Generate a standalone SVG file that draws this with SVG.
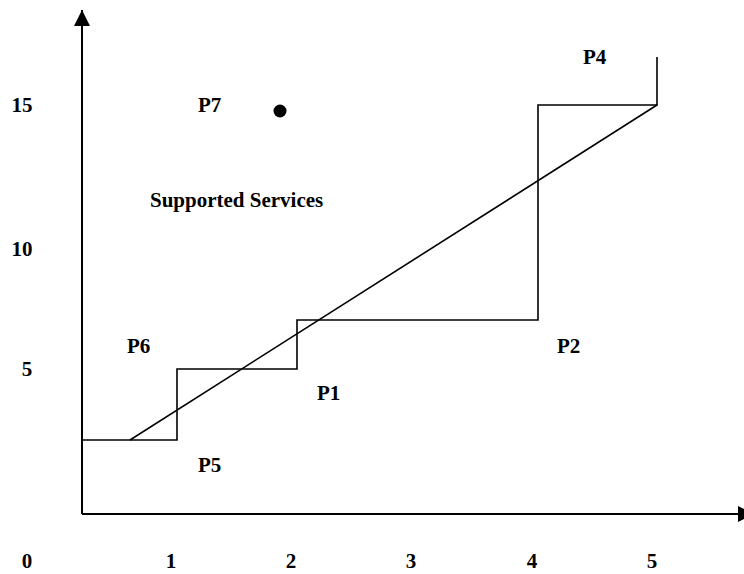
<svg xmlns="http://www.w3.org/2000/svg" width="744" height="574" viewBox="0 0 744 574">
  <style>
    .lbl { font-family: "Liberation Serif", "Times New Roman", serif; font-weight: bold; font-size: 21px; fill: #000; }
    .axis { stroke: #000; stroke-width: 2; fill: none; }
    .line { stroke: #000; stroke-width: 1.6; fill: none; }
  </style>
  <defs>
    <marker id="arrow" viewBox="0 0 10 10" refX="10" refY="5" markerWidth="8" markerHeight="8" markerUnits="strokeWidth" orient="auto">
      <path d="M0,0 L10,5 L0,10 z" fill="#000"/>
    </marker>
  </defs>
  <rect width="744" height="574" fill="#fff"/>

  <!-- axes -->
  <g id="axes">
    <line class="axis" x1="82" y1="514" x2="82" y2="10" marker-end="url(#arrow)"/>
    <line class="axis" x1="82" y1="514" x2="754" y2="514" marker-end="url(#arrow)"/>
  </g>

  <!-- step curve and trend line -->
  <g id="connectors">
    <polyline class="line" points="82,440 177,440 177,369 297,369 297,320 538,320 538,105 657,105 657,57"/>
    <line class="line" x1="130" y1="440" x2="657" y2="105"/>
  </g>

  <g id="p7-point">
    <circle cx="280" cy="111" r="6.5" fill="#000"/>
  </g>

  <!-- axis tick labels -->
  <g id="x-labels">
    <text class="lbl" x="27" y="568" text-anchor="middle">0</text>
    <text class="lbl" x="171" y="568" text-anchor="middle">1</text>
    <text class="lbl" x="291" y="568" text-anchor="middle">2</text>
    <text class="lbl" x="411" y="568" text-anchor="middle">3</text>
    <text class="lbl" x="532" y="568" text-anchor="middle">4</text>
    <text class="lbl" x="652" y="568" text-anchor="middle">5</text>
  </g>
  <g id="y-labels">
    <text class="lbl" x="22" y="112" text-anchor="middle">15</text>
    <text class="lbl" x="22" y="256" text-anchor="middle">10</text>
    <text class="lbl" x="27" y="376" text-anchor="middle">5</text>
  </g>

  <!-- point labels -->
  <g id="labels">
    <text class="lbl" x="198" y="112">P7</text>
    <text class="lbl" x="150" y="207">Supported Services</text>
    <text class="lbl" x="583" y="64">P4</text>
    <text class="lbl" x="127" y="353">P6</text>
    <text class="lbl" x="557" y="353">P2</text>
    <text class="lbl" x="317" y="400">P1</text>
    <text class="lbl" x="198" y="472">P5</text>
  </g>
</svg>
